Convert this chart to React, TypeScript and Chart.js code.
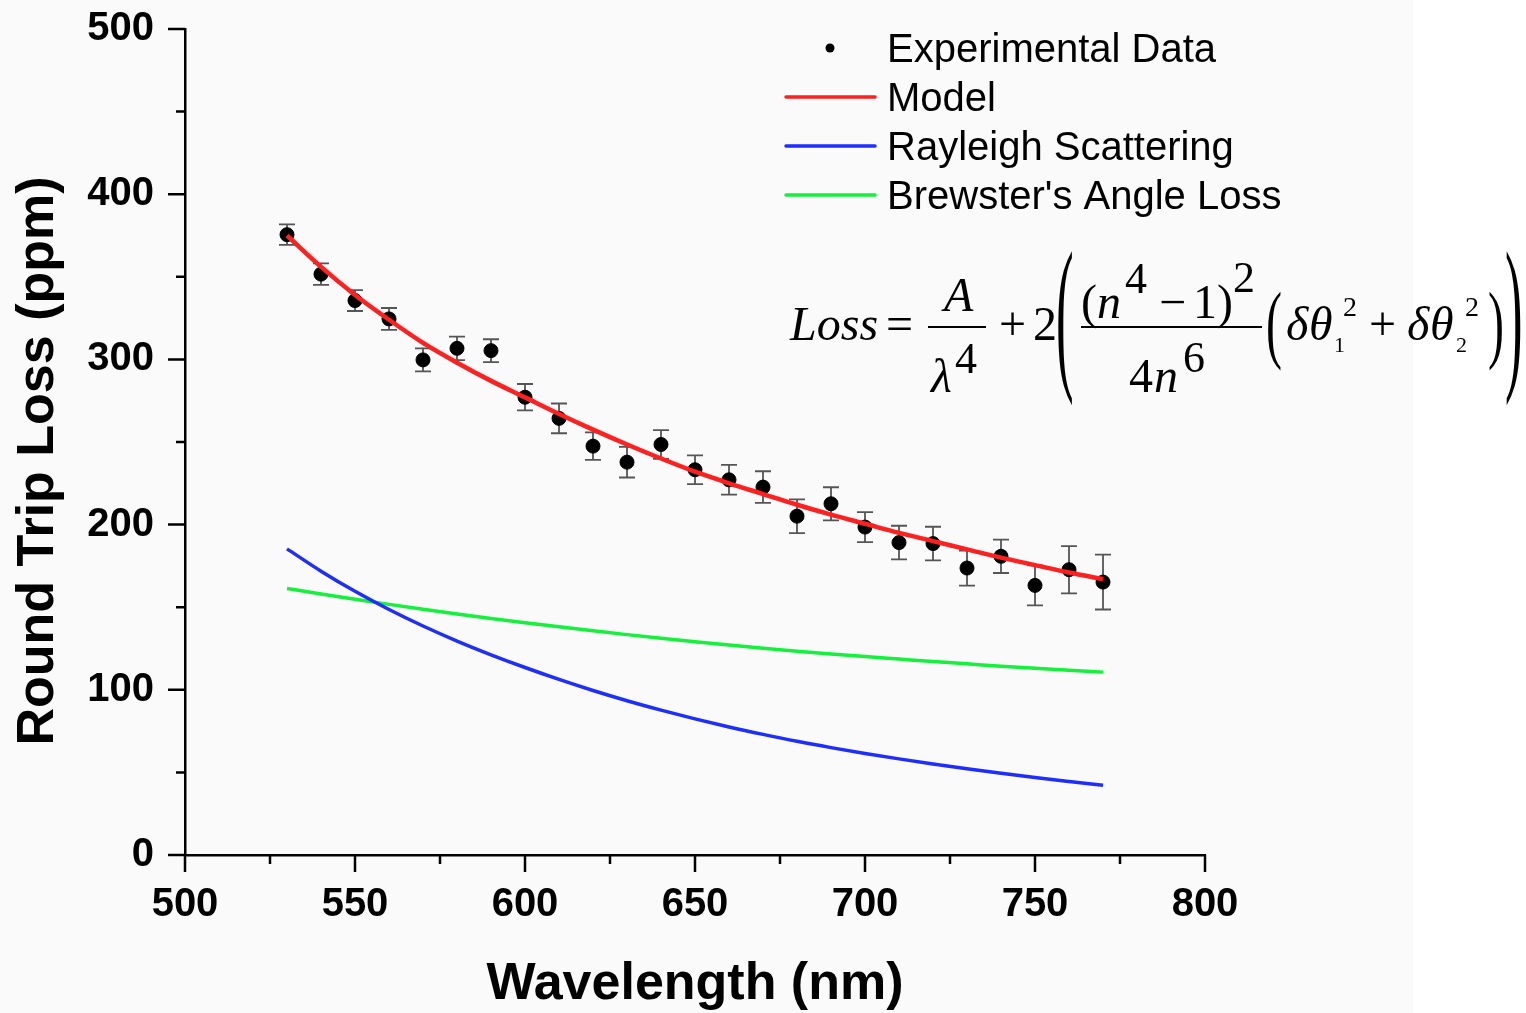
import { useEffect, useRef } from 'react'
import { Chart, registerables } from 'chart.js'

Chart.register(...registerables)

// values
const wavelengths = [530, 540, 550, 560, 570, 580, 590, 600, 610, 620, 630, 640, 650, 660, 670, 680, 690, 700, 710, 720, 730, 740, 750, 760, 770]
const measured = [375.5, 351.6, 335.6, 324.5, 299.7, 306.7, 305.3, 277.1, 264.3, 247.5, 237.8, 248.5, 233.2, 227.1, 222.7, 205.1, 212.6, 198.5, 189.1, 188.5, 173.7, 180.8, 163.2, 172.7, 165.2]
const measuredErr = [6.2, 6.5, 6.3, 6.6, 7.0, 7.1, 6.9, 8.0, 9.0, 8.3, 9.3, 8.7, 8.7, 9.0, 9.6, 10.2, 10.0, 9.1, 10.2, 10.2, 10.6, 10.1, 12.1, 14.3, 16.6]
const model = [375, 356, 339, 324, 310, 298, 287, 277, 267, 257.5, 248.5, 240, 232, 225, 218.5, 212, 206, 200.5, 195, 190, 185, 180, 175.5, 171, 167]
const rayleigh = [185.3, 171.8, 159.6, 148.6, 138.6, 129.5, 121.2, 113.5, 106.3, 99.6, 93.4, 87.7, 82.4, 77.5, 73.0, 68.8, 65.0, 61.5, 58.2, 55.1, 52.2, 49.5, 46.9, 44.5, 42.2]
const brewster = [161.3, 158.0, 154.8, 151.7, 148.7, 145.9, 143.2, 140.6, 138.1, 135.7, 133.4, 131.2, 129.1, 127.1, 125.2, 123.4, 121.7, 120.1, 118.6, 117.1, 115.7, 114.3, 113.0, 111.8, 110.7]
const seriesLabels = ['Experimental Data', 'Model', 'Rayleigh Scattering', "Brewster's Angle Loss"]

const xTitle = 'Wavelength (nm)'
const yTitle = 'Round Trip Loss (ppm)'

const SANS = '"Liberation Sans", Arial, sans-serif'
const SERIF = '"Liberation Serif", "Times New Roman", serif'

const toPoints = (ys: number[]) => wavelengths.map((x, i) => ({ x, y: ys[i] }))

// text pieces of the loss formula, baseline positions
const formulaParts = [
  { t: 'Loss', x: 790, y: 340, s: 48, it: true },
  { t: '=', x: 886, y: 340, s: 48 },
  { t: 'A', x: 944, y: 311, s: 48, it: true },
  { t: 'λ', x: 931, y: 392, s: 48, it: true },
  { t: '4', x: 955, y: 373, s: 44 },
  { t: '+', x: 999, y: 340, s: 48 },
  { t: '2', x: 1033, y: 340, s: 48 },
  { t: '(', x: 1056, y: 369, s: 48, sx: 1.1, sy: 3.55 },
  { t: '(', x: 1081, y: 318, s: 48 },
  { t: 'n', x: 1097, y: 318, s: 48, it: true },
  { t: '4', x: 1125, y: 293, s: 44 },
  { t: '\u2212', x: 1159, y: 318, s: 48 },
  { t: '1)', x: 1193, y: 318, s: 48 },
  { t: '2', x: 1233, y: 292, s: 44 },
  { t: '4', x: 1129, y: 392, s: 48 },
  { t: 'n', x: 1154, y: 392, s: 48, it: true },
  { t: '6', x: 1183, y: 372, s: 44 },
  { t: '(', x: 1266, y: 352, s: 48, sx: 1.0, sy: 1.8 },
  { t: 'δ', x: 1286, y: 340, s: 48, it: true },
  { t: 'θ', x: 1309, y: 340, s: 48, it: true },
  { t: '1', x: 1334, y: 352, s: 22 },
  { t: '2', x: 1343, y: 316, s: 28 },
  { t: '+', x: 1369, y: 340, s: 48 },
  { t: 'δ', x: 1407, y: 340, s: 48, it: true },
  { t: 'θ', x: 1430, y: 340, s: 48, it: true },
  { t: '2', x: 1456, y: 352, s: 22 },
  { t: '2', x: 1465, y: 316, s: 28 },
  { t: ')', x: 1488, y: 352, s: 48, sx: 1.0, sy: 1.8 },
  { t: ')', x: 1505, y: 369, s: 48, sx: 1.1, sy: 3.55 },
]
const formulaBars = [
  [928, 986, 327],
  [1081, 1262, 327],
]

const backgroundPlugin = {
  id: 'paper',
  beforeDraw(chart: any) {
    const { ctx, width, height } = chart
    ctx.save()
    ctx.fillStyle = '#ffffff'
    ctx.fillRect(0, 0, width, height)
    ctx.fillStyle = '#fafafa'
    ctx.fillRect(0, 0, 1413, height)
    ctx.restore()
  },
}

const errorBarPlugin = {
  id: 'errorBars',
  beforeDatasetsDraw(chart: any) {
    const { ctx, scales: { x, y } } = chart
    ctx.save()
    ctx.strokeStyle = '#555'
    ctx.lineWidth = 1.8
    wavelengths.forEach((w, i) => {
      const px = x.getPixelForValue(w)
      const top = y.getPixelForValue(measured[i] + measuredErr[i])
      const bot = y.getPixelForValue(measured[i] - measuredErr[i])
      ctx.beginPath()
      ctx.moveTo(px, top)
      ctx.lineTo(px, bot)
      ctx.moveTo(px - 8, top)
      ctx.lineTo(px + 8, top)
      ctx.moveTo(px - 8, bot)
      ctx.lineTo(px + 8, bot)
      ctx.stroke()
    })
    ctx.restore()
  },
}

const axisPlugin = {
  id: 'axisExtras',
  afterDraw(chart: any) {
    const { ctx, scales: { x, y } } = chart
    ctx.save()
    ctx.strokeStyle = '#000'
    ctx.lineWidth = 2.5
    ctx.beginPath()
    x.ticks.forEach((t: any) => {
      const px = x.getPixelForValue(t.value)
      ctx.moveTo(px, x.top)
      ctx.lineTo(px, x.top + (t.label ? 17 : 9))
    })
    y.ticks.forEach((t: any) => {
      const py = y.getPixelForValue(t.value)
      ctx.moveTo(y.right, py)
      ctx.lineTo(y.right - (t.label ? 17 : 9), py)
    })
    ctx.stroke()

    // y title sits a little below the middle of the axis in the original
    ctx.translate(39, (y.top + y.bottom) / 2 + 19)
    ctx.rotate(-Math.PI / 2)
    ctx.font = `bold 52px ${SANS}`
    ctx.fillStyle = '#000'
    ctx.textAlign = 'center'
    ctx.textBaseline = 'middle'
    ctx.fillText(yTitle, 0, 0)
    ctx.restore()
  },
}

const legendPlugin = {
  id: 'insetLegend',
  afterDraw(chart: any) {
    const { ctx } = chart
    ctx.save()
    ctx.font = `40px ${SANS}`
    ctx.textBaseline = 'alphabetic'
    chart.data.datasets.forEach((ds: any, i: number) => {
      const base = 62 + i * 49
      const mid = base - 14
      if (ds.showLine) {
        ctx.strokeStyle = ds.borderColor
        ctx.lineWidth = 3.5
        ctx.lineCap = 'round'
        ctx.beginPath()
        ctx.moveTo(786, mid)
        ctx.lineTo(875, mid)
        ctx.stroke()
      } else {
        ctx.fillStyle = ds.backgroundColor
        ctx.beginPath()
        ctx.arc(830, mid, 4.5, 0, Math.PI * 2)
        ctx.fill()
      }
      ctx.fillStyle = '#000'
      ctx.fillText(ds.label, 887, base)
    })
    ctx.restore()
  },
}

const formulaPlugin = {
  id: 'formula',
  afterDraw(chart: any) {
    const { ctx } = chart
    ctx.save()
    ctx.fillStyle = '#000'
    ctx.textBaseline = 'alphabetic'
    formulaParts.forEach((p: any) => {
      ctx.font = `${p.it ? 'italic ' : ''}${p.s}px ${SERIF}`
      if (p.sx) {
        ctx.save()
        ctx.translate(p.x, p.y)
        ctx.scale(p.sx, p.sy)
        ctx.fillText(p.t, 0, 0)
        ctx.restore()
      } else {
        ctx.fillText(p.t, p.x, p.y)
      }
    })
    ctx.strokeStyle = '#000'
    ctx.lineWidth = 2
    formulaBars.forEach(([x0, x1, yy]) => {
      ctx.beginPath()
      ctx.moveTo(x0, yy)
      ctx.lineTo(x1, yy)
      ctx.stroke()
    })
    ctx.restore()
  },
}

export default function App() {
  const chartRef = useRef<HTMLCanvasElement>(null)
  const chartInstance = useRef<Chart | null>(null)

  useEffect(() => {
    if (!chartRef.current) return
    const ctx = chartRef.current.getContext('2d')
    if (!ctx) return
    if (chartInstance.current) chartInstance.current.destroy()

    chartInstance.current = new Chart(ctx, {
      type: 'scatter',
      data: {
        datasets: [
          {
            label: seriesLabels[0],
            data: toPoints(measured),
            backgroundColor: '#000',
            borderColor: '#000',
            pointRadius: 7,
            showLine: false,
            order: 1,
          },
          {
            label: seriesLabels[1],
            data: toPoints(model),
            borderColor: '#ff2020',
            backgroundColor: '#ff2020',
            borderWidth: 4.5,
            pointRadius: 0,
            showLine: true,
            cubicInterpolationMode: 'monotone',
            order: 0,
          },
          {
            label: seriesLabels[2],
            data: toPoints(rayleigh),
            borderColor: '#1e2eff',
            backgroundColor: '#1e2eff',
            borderWidth: 3.5,
            pointRadius: 0,
            showLine: true,
            cubicInterpolationMode: 'monotone',
            order: 2,
          },
          {
            label: seriesLabels[3],
            data: toPoints(brewster),
            borderColor: '#14f03c',
            backgroundColor: '#14f03c',
            borderWidth: 3.5,
            pointRadius: 0,
            showLine: true,
            cubicInterpolationMode: 'monotone',
            order: 3,
          },
        ],
      },
      options: {
        responsive: false,
        animation: false,
        layout: { padding: { left: 0, right: 321, top: 29, bottom: 0 } },
        plugins: {
          legend: { display: false },
          tooltip: { enabled: false },
        },
        scales: {
          x: {
            type: 'linear',
            min: 500,
            max: 800,
            afterFit: (scale: any) => {
              scale.height = 158
              scale.paddingLeft = 0
              scale.paddingRight = 0
              scale.paddingTop = 0
              scale.paddingBottom = 0
            },
            grid: { display: false },
            border: { display: true, color: '#000', width: 2.5 },
            ticks: {
              stepSize: 25,
              autoSkip: false,
              maxRotation: 0,
              padding: 18,
              color: '#000',
              font: { family: SANS, size: 40, weight: 'bold' },
              callback: (v: any) => (Number(v) % 50 === 0 ? String(v) : ''),
            },
            title: {
              display: true,
              text: xTitle,
              color: '#000',
              padding: { top: 0, bottom: 2 },
              font: { family: SANS, size: 52, weight: 'bold', lineHeight: 1 },
            },
          },
          y: {
            type: 'linear',
            min: 0,
            max: 500,
            afterFit: (scale: any) => {
              scale.width = 185
              scale.paddingLeft = 0
              scale.paddingRight = 0
              scale.paddingTop = 0
              scale.paddingBottom = 0
            },
            grid: { display: false },
            border: { display: true, color: '#000', width: 2.5 },
            ticks: {
              stepSize: 50,
              autoSkip: false,
              padding: 23,
              color: '#000',
              font: { family: SANS, size: 40, weight: 'bold' },
              callback: (v: any) => (Number(v) % 100 === 0 ? String(v) : ''),
            },
            title: { display: false },
          },
        },
      },
      plugins: [backgroundPlugin, errorBarPlugin, axisPlugin, legendPlugin, formulaPlugin],
    } as any)

    return () => {
      if (chartInstance.current) {
        chartInstance.current.destroy()
        chartInstance.current = null
      }
    }
  }, [])

  return (
    <div style={{ position: 'absolute', left: 0, top: 0, width: 1526, height: 1013 }}>
      <canvas ref={chartRef} width={1526} height={1013} style={{ width: 1526, height: 1013 }}></canvas>
    </div>
  )
}
